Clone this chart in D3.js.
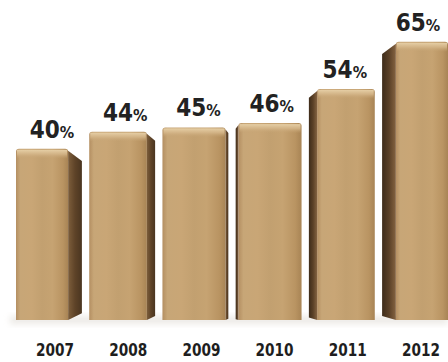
<!DOCTYPE html>
<html>
<head>
<meta charset="utf-8">
<script src="https://cdn.jsdelivr.net/npm/d3@7"></script>
<style>
  html, body { margin: 0; padding: 0; background: #ffffff; }
  svg { display: block; }
</style>
</head>
<body>
<script>
// Share by year (percent)
const years = ["2007", "2008", "2009", "2010", "2011", "2012"];
const shares = [40, 44, 45, 46, 54, 65];

const W = 448, H = 362;
const svg = d3.select("body").append("svg").attr("width", W).attr("height", H);

const x = d3.scaleBand().domain(years).range([16, 448]).paddingInner(0.1).paddingOuter(0);
const y = d3.scaleLinear().domain([0, 70]).range([320, 20.4]);

const defs = svg.append("defs");

// front face: warm cardboard tan with soft vertical streaks
const gFront = defs.append("linearGradient").attr("id", "front").attr("x1", 0).attr("x2", 1).attr("y1", 0).attr("y2", 0);
[[0, "#b48f62"], [0.08, "#c7a677"], [0.3, "#c9a676"], [0.5, "#c2a070"], [0.7, "#c6a372"], [0.9, "#b99462"], [1, "#a88455"]]
  .forEach(([o, c]) => gFront.append("stop").attr("offset", o).attr("stop-color", c));

// side face: shaded brown
const gSideR = defs.append("linearGradient").attr("id", "sideR").attr("x1", 0).attr("x2", 1).attr("y1", 0).attr("y2", 0);
[[0, "#7d5e3b"], [0.5, "#5e4328"], [1, "#4a3520"]]
  .forEach(([o, c]) => gSideR.append("stop").attr("offset", o).attr("stop-color", c));
const gSideL = defs.append("linearGradient").attr("id", "sideL").attr("x1", 0).attr("x2", 1).attr("y1", 0).attr("y2", 0);
[[0, "#3e2c1a"], [0.5, "#5a4027"], [1, "#846341"]]
  .forEach(([o, c]) => gSideL.append("stop").attr("offset", o).attr("stop-color", c));

// top bevel highlight
const gTop = defs.append("linearGradient").attr("id", "topHi").attr("x1", 0).attr("x2", 0).attr("y1", 0).attr("y2", 1);
[[0, "#e6cfa6", 1], [0.5, "#d3b487", 0.9], [1, "#c5a373", 0]]
  .forEach(([o, c, a]) => gTop.append("stop").attr("offset", o).attr("stop-color", c).attr("stop-opacity", a));

// soft floor shadow
const blur = defs.append("filter").attr("id", "soft").attr("x", "-20%").attr("y", "-50%").attr("width", "140%").attr("height", "200%");
blur.append("feGaussianBlur").attr("stdDeviation", 3);

const data = years.map((yr, i) => ({ yr, v: shares[i], i }));
const bw = x.bandwidth();
const mid = (years.length - 1) / 2;
const sideW = i => (mid - i) * 5.5; // >0: side shows on the right, <0: on the left

svg.append("rect")
  .attr("x", x(years[0]) - 6).attr("y", y(0) - 4)
  .attr("width", x(years[years.length - 1]) + bw - x(years[0]) + 6).attr("height", 8)
  .attr("fill", "#d9d4cc").attr("opacity", 0.5).attr("filter", "url(#soft)");

const bars = svg.selectAll("g.bar").data(data).join("g").attr("class", "bar");

bars.each(function (d) {
  const g = d3.select(this);
  const s = sideW(d.i);
  const top = y(d.v), bot = y(0);
  const x0 = x(d.yr), x1 = x0 + bw;
  let fx0, fx1;
  if (s >= 0) { fx0 = x0; fx1 = x1 - s; } else { fx0 = x0 - s; fx1 = x1; }

  // front face
  g.append("path")
    .attr("d", `M${fx0},${bot} V${top + 3} Q${fx0},${top} ${fx0 + 3},${top} H${fx1 - 3} Q${fx1},${top} ${fx1},${top + 3} V${bot} Z`)
    .attr("fill", "url(#front)");
  // top highlight band
  g.append("rect")
    .attr("x", fx0 + 1).attr("y", top + 1)
    .attr("width", fx1 - fx0 - 2).attr("height", 9)
    .attr("fill", "url(#topHi)");
  // side face
  if (Math.abs(s) > 1) {
    const a = Math.abs(s);
    const d2 = s > 0
      ? `M${fx1},${top + 2} L${fx1 + a},${top + a * 0.6 + 4} V${bot - a * 0.5} L${fx1},${bot} Z`
      : `M${fx0},${top + 2} L${fx0 - a},${top + a * 0.6 + 4} V${bot - a * 0.3} L${fx0},${bot} Z`;
    g.append("path").attr("d", d2).attr("fill", s > 0 ? "url(#sideR)" : "url(#sideL)");
  }
});

const labelFont = "'DejaVu Sans Condensed', 'DejaVu Sans', sans-serif";

// value labels above bars
const vl = svg.selectAll("text.val").data(data).join("text").attr("class", "val")
  .attr("x", d => x(d.yr) + bw / 2 + 3)
  .attr("y", d => y(d.v) - 11)
  .attr("text-anchor", "middle")
  .attr("font-family", labelFont)
  .attr("font-weight", "bold")
  .attr("fill", "#222222");
vl.append("tspan").attr("font-size", 24).text(d => d.v);
vl.append("tspan").attr("font-size", 16).text("%");

// year labels along the bottom
const xAxis = d3.axisBottom(x).tickSize(0).tickPadding(0);
const ax = svg.append("g").attr("transform", `translate(6,${H - 20})`).call(xAxis);
ax.select(".domain").remove();
ax.selectAll("text")
  .attr("dy", 0).attr("y", 14)
  .attr("font-family", labelFont)
  .attr("font-weight", "bold")
  .attr("font-size", 18)
  .attr("textLength", 38)
  .attr("lengthAdjust", "spacingAndGlyphs")
  .attr("fill", "#1e1e1e");
</script>
</body>
</html>
